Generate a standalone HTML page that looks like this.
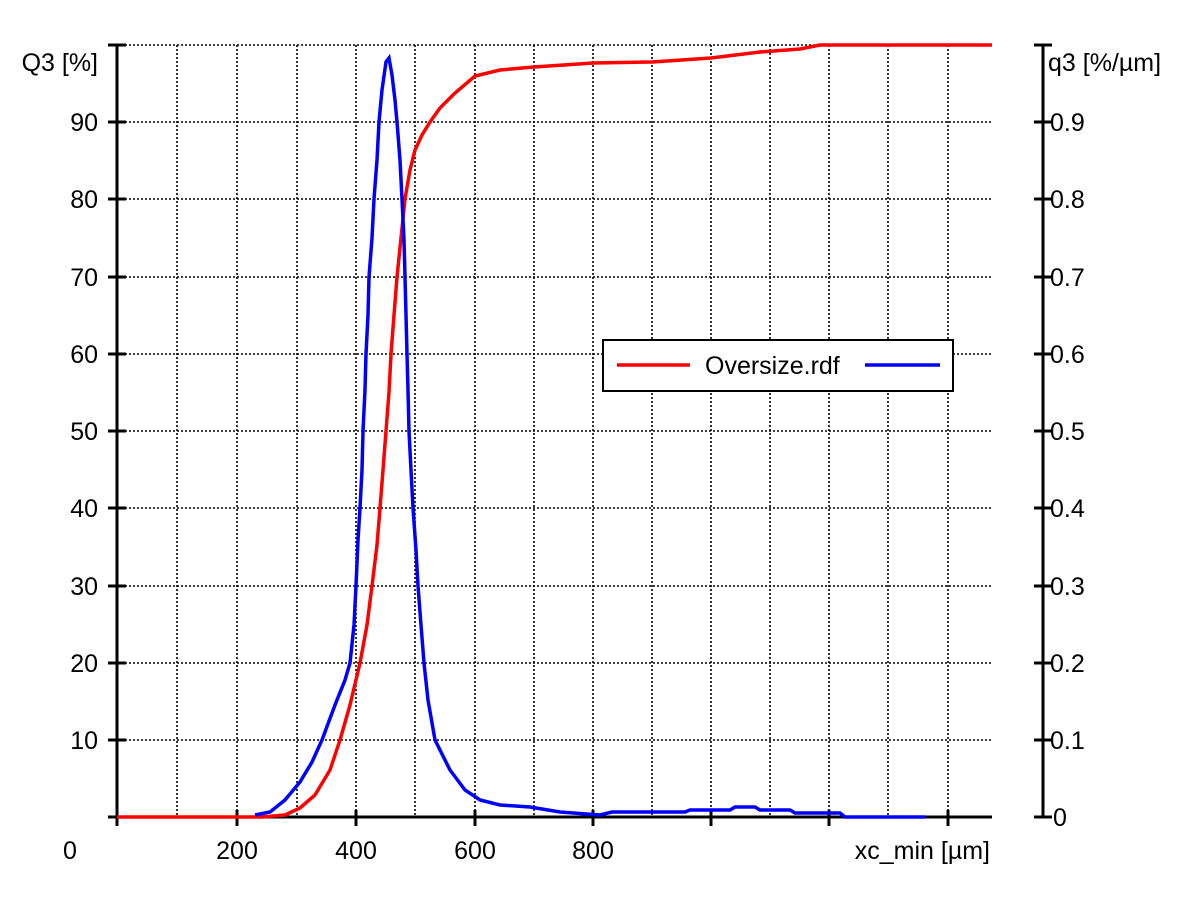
<!DOCTYPE html>
<html><head><meta charset="utf-8"><style>body{margin:0;background:#fff}svg{display:block}text{font-family:"Liberation Sans",Arial,sans-serif;font-size:25px;fill:#000}</style></head>
<body>
<svg width="1200" height="900" viewBox="0 0 1200 900">
<g stroke="#000" stroke-width="1.6" stroke-dasharray="2,2" fill="none">
<line x1="117" y1="45" x2="992" y2="45"/>
<line x1="117" y1="122" x2="992" y2="122"/>
<line x1="117" y1="199" x2="992" y2="199"/>
<line x1="117" y1="277" x2="992" y2="277"/>
<line x1="117" y1="354" x2="992" y2="354"/>
<line x1="117" y1="431" x2="992" y2="431"/>
<line x1="117" y1="508" x2="992" y2="508"/>
<line x1="117" y1="586" x2="992" y2="586"/>
<line x1="117" y1="663" x2="992" y2="663"/>
<line x1="117" y1="740" x2="992" y2="740"/>
<line x1="177" y1="45" x2="177" y2="817"/><line x1="237" y1="45" x2="237" y2="817"/>
<line x1="297" y1="45" x2="297" y2="817"/><line x1="356" y1="45" x2="356" y2="817"/>
<line x1="415" y1="45" x2="415" y2="817"/><line x1="475" y1="45" x2="475" y2="817"/>
<line x1="534" y1="45" x2="534" y2="817"/><line x1="593" y1="45" x2="593" y2="817"/>
<line x1="652" y1="45" x2="652" y2="817"/><line x1="711" y1="45" x2="711" y2="817"/>
<line x1="770" y1="45" x2="770" y2="817"/><line x1="829" y1="45" x2="829" y2="817"/>
<line x1="888" y1="45" x2="888" y2="817"/><line x1="948" y1="45" x2="948" y2="817"/>
</g>
<g stroke="#000" stroke-width="3" fill="none">
<line x1="117" y1="45" x2="117" y2="817"/>
<line x1="117" y1="817" x2="992" y2="817"/>
<line x1="1043" y1="45" x2="1043" y2="817"/>
<path d="M108 45h18M108 122h18M108 199h18M108 277h18M108 354h18M108 431h18M108 508h18M108 586h18M108 663h18M108 740h18M108 817h18"/>
<path d="M1034 45h18M1034 122h18M1034 199h18M1034 277h18M1034 354h18M1034 431h18M1034 508h18M1034 586h18M1034 663h18M1034 740h18M1034 817h18"/>
<path d="M117 810v16M237 810v16M356 810v16M475 810v16M593 810v16M711 810v16M829 810v16M948 810v16"/>
</g>
<g text-anchor="end">
<text x="98" y="71">Q3 [%]</text>
<text x="98" y="131">90</text><text x="98" y="208">80</text><text x="98" y="286">70</text>
<text x="98" y="363">60</text><text x="98" y="440">50</text><text x="98" y="517">40</text>
<text x="98" y="595">30</text><text x="98" y="672">20</text><text x="98" y="749">10</text>
</g>
<g>
<text x="1048" y="71">q3 [%/µm]</text>
<text x="1050" y="131">0.9</text><text x="1050" y="208">0.8</text><text x="1050" y="286">0.7</text>
<text x="1050" y="363">0.6</text><text x="1050" y="440">0.5</text><text x="1050" y="517">0.4</text>
<text x="1050" y="595">0.3</text><text x="1050" y="672">0.2</text><text x="1050" y="749">0.1</text>
<text x="1053" y="826">0</text>
</g>
<g text-anchor="middle">
<text x="70" y="859">0</text><text x="237" y="859">200</text><text x="356" y="859">400</text>
<text x="475" y="859">600</text><text x="593" y="859">800</text>
</g>
<text x="990" y="859" text-anchor="end">xc_min [µm]</text>
<polyline fill="none" stroke="#f00" stroke-width="3.5" points="117,817 262,817 285,815 300,808 315,795 330,770 340,740 350,705 360,663 367,625 372,586 377,545 380,508 383,470 386,431 389,392 391,354 394,315 397,277 401,238 405,199 410,170 415,150 422,135 430,122 440,108 455,93 475,76 500,70 534,67 593,63 652,62 711,58 760,52 800,49 820,45 992,45"/>
<polyline fill="none" stroke="#00f" stroke-width="3.5" points="255,815 270,812 285,800 300,782 312,762 322,740 335,705 345,680 350,663 354,625 356,586 358,540 360,508 362,470 363,431 365,390 366,354 368,315 369,277 372,238 374,199 377,160 379,122 382,90 386,62 389,58 392,75 395,100 397,122 400,160 402,199 404,240 405,277 406,315 407,354 408,390 409,431 411,470 413,508 416,550 418,586 421,625 424,663 428,700 435,740 450,770 465,790 480,800 500,805 530,807 560,812 600,815 612,812 685,812 690,810 730,810 735,807 755,807 760,810 790,810 795,813 840,813 845,817 925,817"/>
<rect x="603" y="340" width="350" height="51" fill="#fff" stroke="#000" stroke-width="2"/>
<line x1="617" y1="365" x2="690" y2="365" stroke="#f00" stroke-width="3.5"/>
<line x1="865" y1="365" x2="940" y2="365" stroke="#00f" stroke-width="3.5"/>
<text x="705" y="374">Oversize.rdf</text>
</svg>
</body></html>
